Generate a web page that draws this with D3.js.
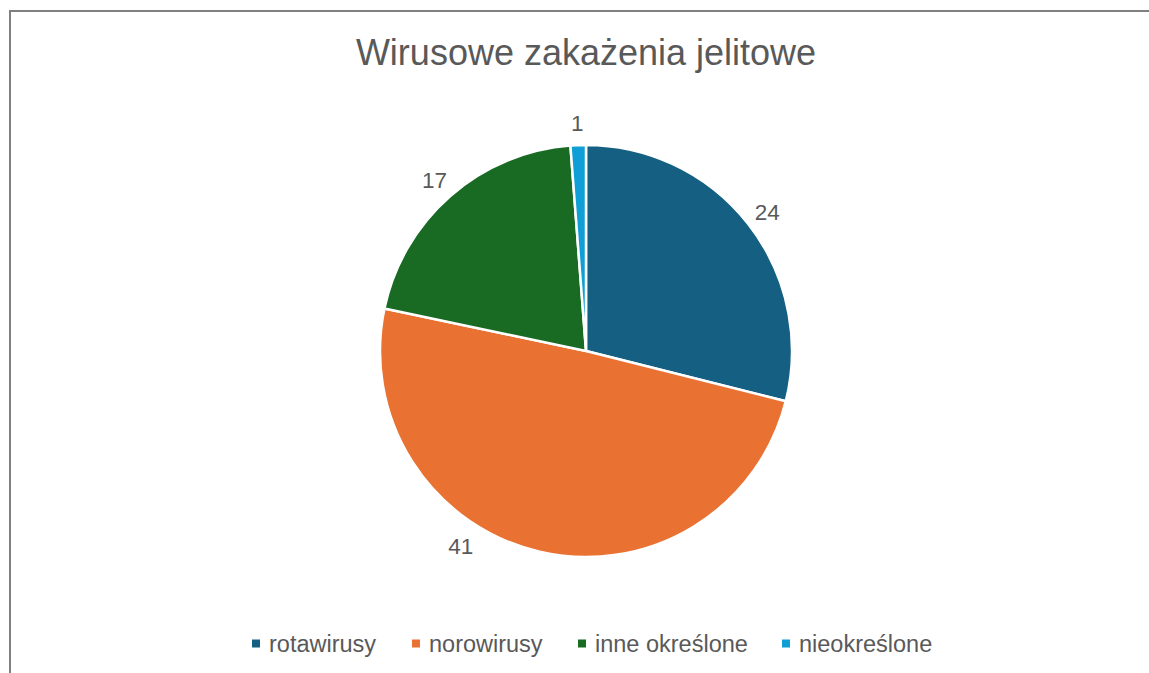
<!DOCTYPE html>
<html>
<head>
<meta charset="utf-8">
<script src="https://cdn.jsdelivr.net/npm/d3@7"></script>
<style>
  body { margin: 0; background: #fff; }
  text { font-family: "Liberation Sans", Arial, sans-serif; fill: #595959; }
</style>
</head>
<body>
<script>
const width = 1149;
const height = 673;

const title = "Wirusowe zakażenia jelitowe";
const categories = ["rotawirusy", "norowirusy", "inne określone", "nieokreślone"];
const values = [24, 41, 17, 1];
const colors = ["#156082", "#E97132", "#196B24", "#0F9ED5"];

// Excel's "best fit" pushes the big orange label a bit round the pie
const labelNudge = { norowirusy: 20 };

const data = categories.map((c, i) => ({ name: c, value: values[i] }));

const color = d3.scaleOrdinal().domain(categories).range(colors);

const svg = d3.select("body")
  .append("svg")
  .attr("width", width)
  .attr("height", height);

// chart frame (only the top and left edges fall inside the window)
svg.append("rect")
  .attr("x", 10)
  .attr("y", 11)
  .attr("width", width + 20)
  .attr("height", height + 20)
  .attr("fill", "none")
  .attr("stroke", "#808080")
  .attr("stroke-width", 2);

svg.append("text")
  .attr("x", 586)
  .attr("y", 65)
  .attr("text-anchor", "middle")
  .style("font-size", "36px")
  .text(title);

const cx = 586, cy = 351, r = 206;

const pie = d3.pie().sort(null).value(d => d.value);
const arc = d3.arc().innerRadius(0).outerRadius(r);

const g = svg.append("g").attr("transform", `translate(${cx},${cy})`);

const arcs = pie(data);

g.selectAll("path")
  .data(arcs)
  .join("path")
  .attr("d", arc)
  .attr("fill", d => color(d.data.name))
  .attr("stroke", "#fff")
  .attr("stroke-width", 2.5);

g.selectAll("text.lbl")
  .data(arcs)
  .join("text")
  .attr("class", "lbl")
  .attr("transform", d => {
    const a = (d.startAngle + d.endAngle) / 2 + (labelNudge[d.data.name] || 0) * Math.PI / 180;
    const rr = r + 24;
    return `translate(${rr * Math.sin(a)},${-rr * Math.cos(a)})`;
  })
  .attr("text-anchor", "middle")
  .attr("dy", "0.45em")
  .style("font-size", "22.5px")
  .text(d => d.data.value);

// legend
const legend = svg.append("g").attr("transform", "translate(0,643.5)");
const legendX = d3.scaleOrdinal().domain(categories).range([252, 412, 578, 782]);

const item = legend.selectAll("g")
  .data(categories)
  .join("g")
  .attr("transform", d => `translate(${legendX(d)},0)`);

item.append("rect")
  .attr("x", 0)
  .attr("y", -4)
  .attr("width", 8)
  .attr("height", 8)
  .attr("fill", d => color(d));

item.append("text")
  .attr("x", 17)
  .attr("dy", "0.35em")
  .style("font-size", "23.5px")
  .text(d => d);
</script>
</body>
</html>
